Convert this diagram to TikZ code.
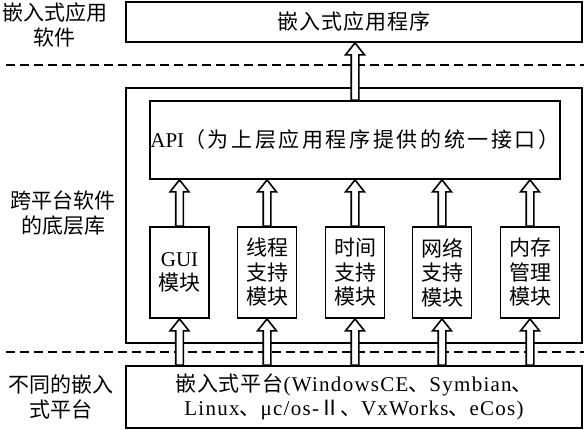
\documentclass[tikz,border=0pt]{standalone}
\usepackage{fontspec}
\setmainfont{Liberation Serif}
\newfontfamily\cjk{Noto Sans CJK SC}
\newfontfamily\cjkapi[LetterSpace=12.5]{Noto Sans CJK SC}
\newfontfamily\serifwide[LetterSpace=6]{Liberation Serif}
\newfontfamily\cjkwide[LetterSpace=4]{Noto Sans CJK SC}
\usetikzlibrary{calc}
\tikzset{
  box/.style={draw, line width=1.8pt, inner sep=0pt, align=center},
  mod/.style={box, minimum width=59pt, minimum height=91pt, font=\fontsize{21}{24.5}\selectfont},
  lbl/.style={align=center, inner sep=0pt, font=\cjk\fontsize{21}{25}\selectfont},
  dashline/.style={line width=1.8pt, dash pattern=on 9pt off 5pt},
  harrow/.style={draw, fill=white, line width=1.6pt, line join=miter},
}
\newcommand\hollowup[2]{\path[harrow] let \p1=(#1), \p2=(#2) in
  (\x1-3.8pt,\y1) -- (\x1-3.8pt,\y2-12pt) -- (\x1-9.5pt,\y2-12pt) -- (\x1,\y2)
  -- (\x1+9.5pt,\y2-12pt) -- (\x1+3.8pt,\y2-12pt) -- (\x1+3.8pt,\y1) -- cycle;}
\begin{document}
\begin{tikzpicture}[x=1pt,y=-1pt]
\useasboundingbox (0,0) rectangle (584,430);
% dashed separators
\coordinate (d1l) at (6,65);  \coordinate (d1r) at (584,65);
\coordinate (d2l) at (6,352); \coordinate (d2r) at (584,352);
\draw[dashline] (d1l) -- (d1r);
\draw[dashline] (d2l) -- (d2r);
% boxes
\node[box, minimum width=456pt, minimum height=40pt, font=\cjkwide\fontsize{21}{25}\selectfont] (top) at (354,22) {嵌入式应用程序};
\node[box, minimum width=456pt, minimum height=255pt] (outer) at (354,215.5) {};
\node[box, minimum width=410pt, minimum height=78pt, font=\fontsize{21}{25}\selectfont] (api) at (355,140) {API{\cjkapi（为上层应用程序提供的统一接口）}};
\node[mod] (m1) at (179.5,272.5) {GUI\\{\cjk 模块}};
\node[mod] (m2) at (267,272.5) {{\cjk 线程}\\{\cjk 支持}\\{\cjk 模块}};
\node[mod] (m3) at (355,272.5) {{\cjk 时间}\\{\cjk 支持}\\{\cjk 模块}};
\node[mod] (m4) at (442,272.5) {{\cjk 网络}\\{\cjk 支持}\\{\cjk 模块}};
\node[mod] (m5) at (530,272.5) {{\cjk 内存}\\{\cjk 管理}\\{\cjk 模块}};
\node[box, minimum width=456pt, minimum height=62pt, font=\serifwide\fontsize{21}{23.5}\selectfont] (plat) at (354,397)
  {{\cjkwide 嵌入式平台}(WindowsCE{\cjk 、}Symbian{\cjk 、}\\Linux{\cjk 、}μc/os-{\cjk Ⅱ、}VxWorks{\cjk 、}eCos)};
% side labels
\node[lbl] (l1) at (55,25) {嵌入式应用\\软件};
\node[lbl] (l2) at (63,213) {跨平台软件\\的底层库};
\node[lbl] (l3) at (61,397) {不同的嵌入\\式平台};
% hollow arrows
\hollowup{api.north}{top.south}
\foreach \m in {m1,m2,m3,m4,m5}{
  \hollowup{\m.north}{\m.north |- api.south}
  \hollowup{\m.south |- plat.north}{\m.south}
}
\end{tikzpicture}
\end{document}
